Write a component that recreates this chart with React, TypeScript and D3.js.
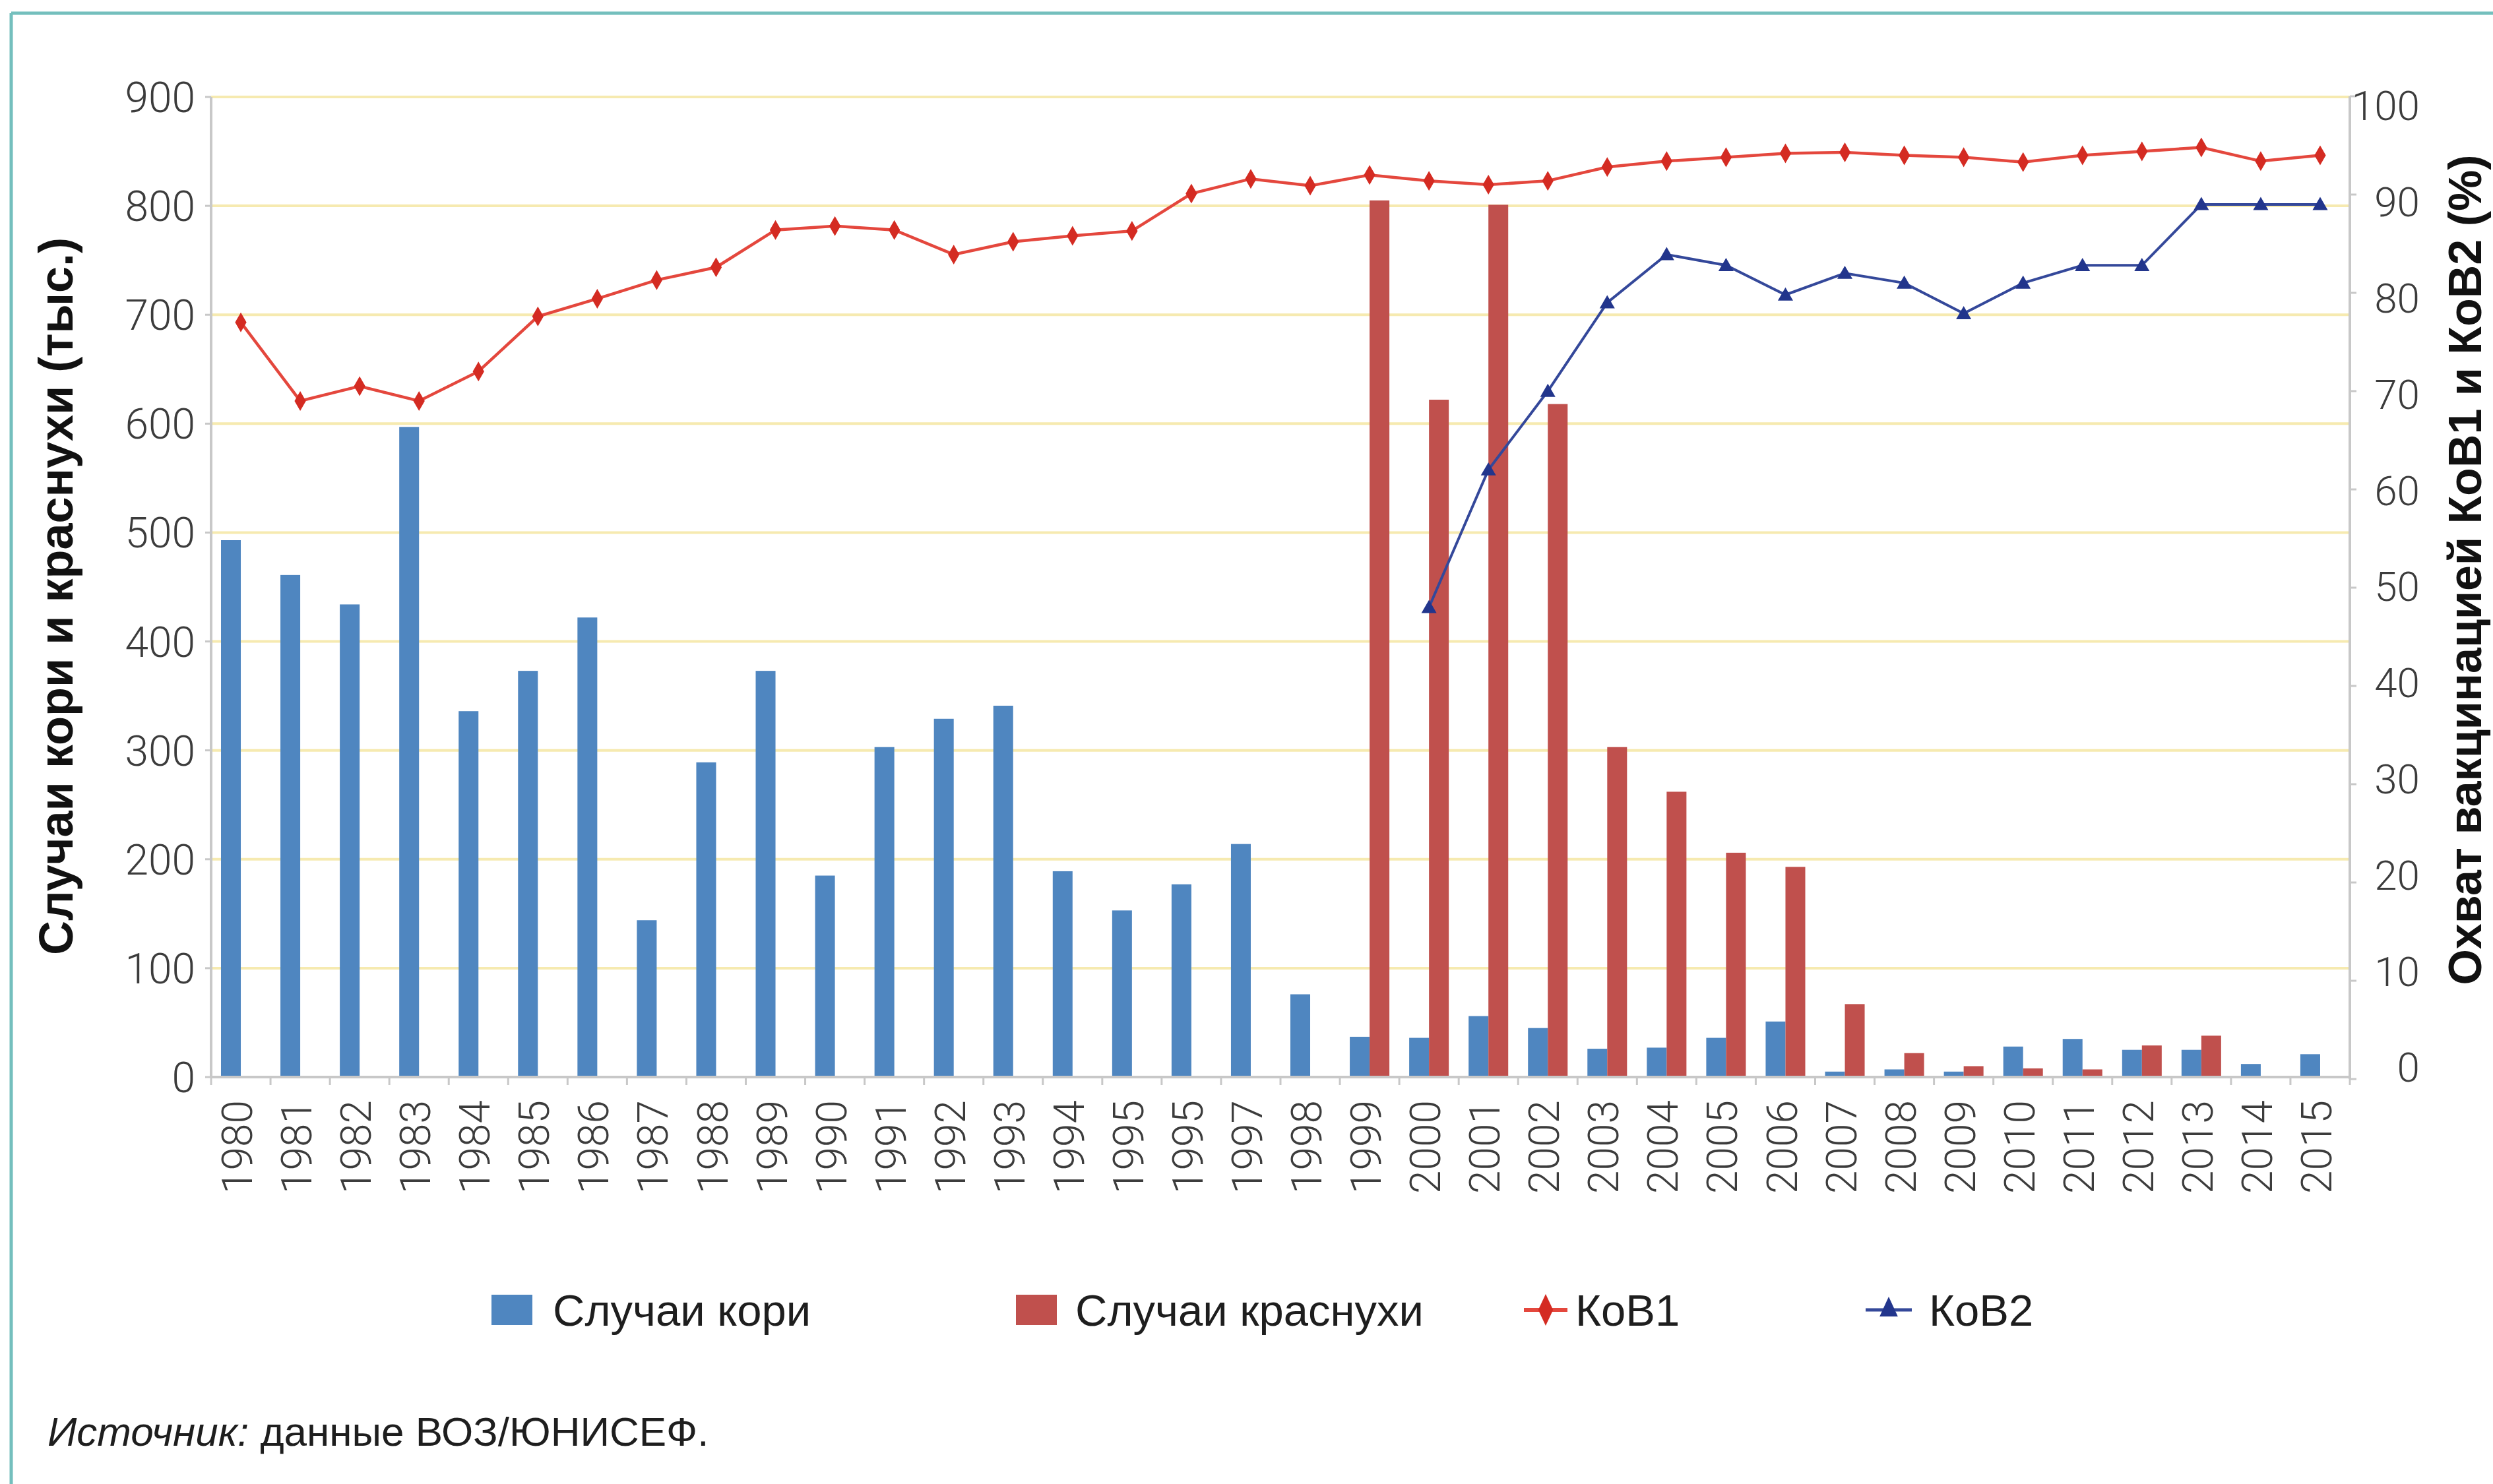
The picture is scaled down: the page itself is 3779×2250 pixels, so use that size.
import React, { useEffect } from "react";
import * as d3 from "d3";

const years = ["1980","1981","1982","1983","1984","1985","1986","1987","1988","1989","1990","1991","1992","1993","1994","1995","1995","1997","1998","1999","2000","2001","2002","2003","2004","2005","2006","2007","2008","2009","2010","2011","2012","2013","2014","2015"];
const measles = [493,461,434,597,336,373,422,144,289,373,185,303,329,341,189,153,177,214,76,37,36,56,45,26,27,36,51,5,7,5,28,35,25,25,12,21];
const rubella: (number | null)[] = [null,null,null,null,null,null,null,null,null,null,null,null,null,null,null,null,null,null,null,805,622,801,618,303,262,206,193,67,22,10,8,7,29,38,0,0];
const kob1 = [77,69,70.5,69,72,77.6,79.4,81.3,82.6,86.4,86.8,86.4,83.9,85.2,85.8,86.3,90.1,91.6,90.9,92,91.4,91,91.4,92.8,93.4,93.8,94.2,94.3,94,93.8,93.3,94,94.4,94.8,93.4,94];
const kob2: (number | null)[] = [null,null,null,null,null,null,null,null,null,null,null,null,null,null,null,null,null,null,null,null,48,62,70,79,83.9,82.8,79.8,82,81,77.9,81,82.8,82.8,89,89,89];
const leftTicks = [0,100,200,300,400,500,600,700,800,900];
const rightTicks = [0,10,20,30,40,50,60,70,80,90,100];
const legendLabels = ["Случаи кори","Случаи краснухи","КоВ1","КоВ2"];
const leftTitle = "Случаи кори и краснухи (тыс.)";
const rightTitle = "Охват вакцинацией КоВ1 и КоВ2 (%)";
const sourceItalic = "Источник:";
const sourceRest = " данные ВОЗ/ЮНИСЕФ.";

const BLUE = "#4f86c0";
const RED = "#c0504d";
const L1 = "#e4473d";
const L1M = "#d42b22";
const L2 = "#34489a";
const L2M = "#22358c";
const GRID = "#f6eab0";
const AXIS = "#c8c8c8";
const TXT = "#3c3c3c";
const NUMFONT = "Roboto, 'Liberation Sans', sans-serif";
const TEXTFONT = "'Liberation Sans', Arial, sans-serif";
const BOLDFONT = "'Liberation Sans', Arial, sans-serif";

export default function App() {
  useEffect(() => {
    document.body.style.margin = "0";
    document.body.style.overflow = "hidden";
  }, []);

  const W = 3779, H = 2250;
  const x0 = 320, x1 = 3562;
  const x = d3.scaleBand<number>().domain(d3.range(years.length)).range([x0, x1]).paddingInner(0).paddingOuter(0);
  const sub = d3.scaleBand<string>().domain(["m", "r"]).range([0, x.bandwidth()]).paddingInner(0).paddingOuter(0.5);
  const yL = d3.scaleLinear().domain([0, 900]).range([1633, 147]);
  const yR = d3.scaleLinear().domain([0, 100]).range([1636, 146]);
  const yRLab = d3.scaleLinear().domain([0, 100]).range([1618, 160]);
  const cx = (i: number) => (x(i) as number) + x.bandwidth() / 2;

  const line1 = d3.line<number>().x((_, i) => cx(i)).y(d => yR(d));
  const line2 = d3.line<number | null>().defined(d => d != null).x((_, i) => cx(i)).y(d => yR(d as number));
  const diamond = d3.symbol().type(d3.symbolDiamond).size(260)();
  const tri = d3.symbol().type(d3.symbolTriangle).size(230)();

  const legY = 1986;
  const legItems = [
    { x: 745, type: "rect", color: BLUE, tx: 838 },
    { x: 1540, type: "rect", color: RED, tx: 1630 },
    { x: 2310, type: "l1", color: L1, tx: 2388 },
    { x: 2828, type: "l2", color: L2, tx: 2924 },
  ];

  return (
    <svg width={W} height={H} style={{ position: "absolute", left: 0, top: 0, background: "#fff" }}>
      <rect x={0} y={0} width={W} height={H} fill="#fff" />
      {/* frame */}
      <line x1={17} y1={20} x2={W} y2={20} stroke="#74bfbd" strokeWidth={5} />
      <line x1={17} y1={20} x2={17} y2={H} stroke="#74bfbd" strokeWidth={5} />

      {/* gridlines */}
      {leftTicks.filter(t => t > 0).map(t => (
        <line key={"g" + t} x1={x0} x2={x1} y1={yL(t)} y2={yL(t)} stroke={GRID} strokeWidth={4} />
      ))}

      {/* bars */}
      {measles.map((v, i) => (
        <rect key={"m" + i} x={(x(i) as number) + (sub("m") as number)} width={sub.bandwidth()} y={yL(v)} height={yL(0) - yL(v)} fill={BLUE} />
      ))}
      {rubella.map((v, i) => v == null || v === 0 ? null : (
        <rect key={"r" + i} x={(x(i) as number) + (sub("r") as number)} width={sub.bandwidth()} y={yL(v)} height={yL(0) - yL(v)} fill={RED} />
      ))}

      {/* axes */}
      <line x1={x0} x2={x0} y1={yL(900)} y2={yL(0)} stroke={AXIS} strokeWidth={4} />
      <line x1={x1} x2={x1} y1={yR(100)} y2={yR(0)} stroke={AXIS} strokeWidth={4} />
      <line x1={x0} x2={x1} y1={yL(0)} y2={yL(0)} stroke={AXIS} strokeWidth={4} />
      {leftTicks.map(t => (
        <g key={"lt" + t}>
          <line x1={x0 - 9} x2={x0} y1={yL(t)} y2={yL(t)} stroke={AXIS} strokeWidth={3} />
          <text x={296} y={yL(t)} dy="0.36em" textAnchor="end" fontFamily={NUMFONT} fontWeight={300} fontSize={64} fill={TXT}>{t}</text>
        </g>
      ))}
      {rightTicks.map(t => (
        <g key={"rt" + t}>
          <line x1={x1} x2={x1 + 10} y1={yR(t)} y2={yR(t)} stroke={AXIS} strokeWidth={3} />
          <text x={3668} y={yRLab(t)} dy="0.36em" textAnchor="end" fontFamily={NUMFONT} fontWeight={300} fontSize={62} fill={TXT}>{t}</text>
        </g>
      ))}
      {d3.range(years.length + 1).map(i => {
        const xx = x0 + i * x.step();
        return <line key={"xt" + i} x1={xx} x2={xx} y1={yL(0)} y2={yL(0) + 12} stroke={AXIS} strokeWidth={3} />;
      })}
      {years.map((yr, i) => (
        <text key={"xl" + i} transform={`translate(${cx(i) - 6},${1668}) rotate(-90)`} dy="0.36em" textAnchor="end" fontFamily={NUMFONT} fontWeight={300} fontSize={64} fill={TXT}>{yr}</text>
      ))}

      {/* lines */}
      <path d={line1(kob1) || ""} fill="none" stroke={L1} strokeWidth={4.5} />
      {kob1.map((v, i) => (
        <path key={"d" + i} d={diamond || ""} transform={`translate(${cx(i)},${yR(v)})`} fill={L1M} />
      ))}
      <path d={line2(kob2) || ""} fill="none" stroke={L2} strokeWidth={4} />
      {kob2.map((v, i) => v == null ? null : (
        <path key={"t" + i} d={tri || ""} transform={`translate(${cx(i)},${yR(v) + 2})`} fill={L2M} />
      ))}

      {/* axis titles */}
      <text transform={`translate(84,${(yL(0) + yL(900)) / 2 + 14}) rotate(-90)`} dy="0.36em" textAnchor="middle" fontFamily={BOLDFONT} fontWeight={700} fontSize={72} fill="#111">{leftTitle}</text>
      <text transform={`translate(3736,864) rotate(-90)`} dy="0.36em" textAnchor="middle" fontFamily={BOLDFONT} fontWeight={700} fontSize={70} fill="#111">{rightTitle}</text>

      {/* legend */}
      {legItems.map((it, k) => (
        <g key={"lg" + k}>
          {it.type === "rect" && <rect x={it.x} y={legY - 23} width={62} height={46} fill={it.color} />}
          {it.type === "l1" && (
            <g>
              <line x1={it.x} x2={it.x + 66} y1={legY} y2={legY} stroke={L1} strokeWidth={6} />
              <path d={diamond || ""} transform={`translate(${it.x + 33},${legY}) scale(1.3,1.6)`} fill={L1M} />
            </g>
          )}
          <text x={it.tx} y={legY} dy="0.36em" fontFamily={TEXTFONT} fontSize={67} fill="#1e1e1e">{legendLabels[k]}</text>
          {it.type === "l2" && (
            <g>
              <line x1={it.x} x2={it.x + 70} y1={legY} y2={legY} stroke={L2} strokeWidth={5} />
              <path d={tri || ""} transform={`translate(${it.x + 35},${legY}) scale(1.2,1.5)`} fill={L2M} />
            </g>
          )}
        </g>
      ))}

      {/* source */}
      <text x={72} y={2170} dy="0.36em" fontFamily={TEXTFONT} fontSize={62} fill="#1e1e1e">
        <tspan fontStyle="italic">{sourceItalic}</tspan>
        <tspan>{sourceRest}</tspan>
      </text>
    </svg>
  );
}
